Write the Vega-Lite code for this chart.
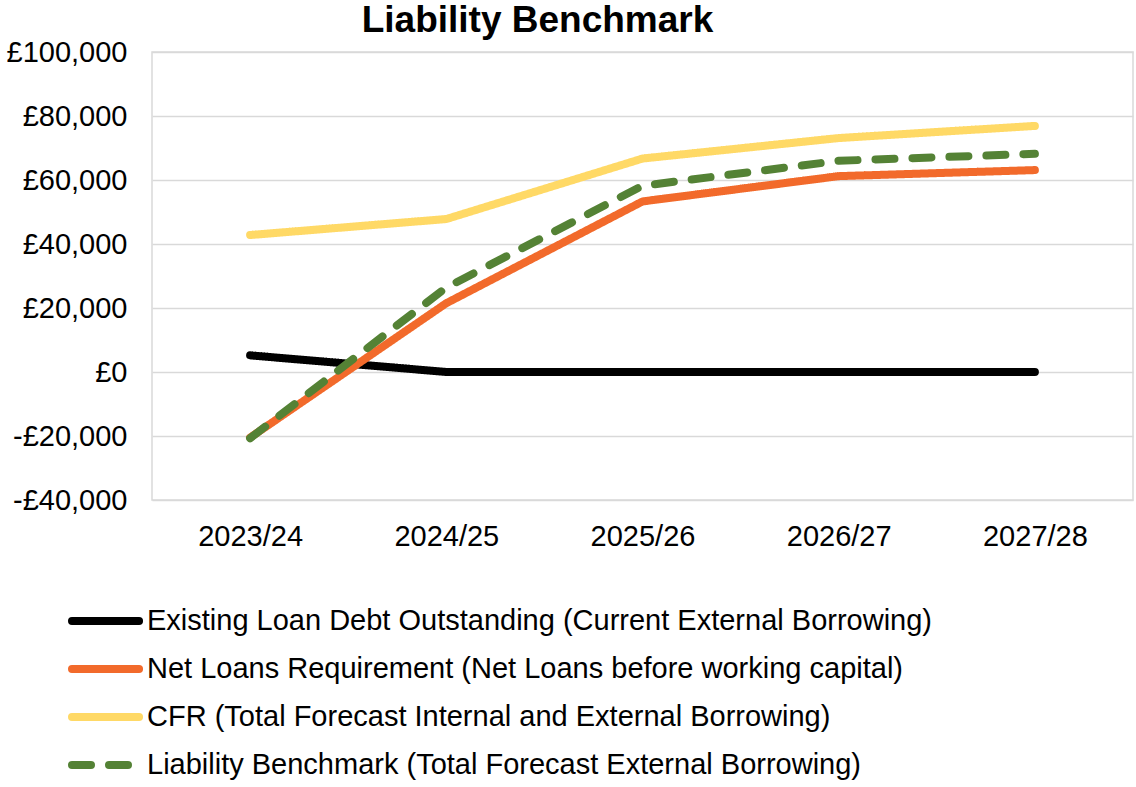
{
  "$schema": "https://vega.github.io/schema/vega-lite/v6.json",
  "autosize": {"type": "none"},
  "padding": {"left": 152, "top": 52, "right": 3, "bottom": 287},
  "width": 981,
  "height": 448,
  "title": {"text": "Liability Benchmark", "font": "Liberation Sans", "fontSize": 37, "fontWeight": "bold", "color": "#000000", "anchor": "middle", "dx": -105, "offset": -2},
  "config": {
    "font": "Liberation Sans",
    "view": {"stroke": "#d9d9d9", "strokeWidth": 1.5},
    "axis": {"labelFont": "Liberation Sans", "labelFontSize": 29, "labelColor": "#000000", "ticks": false, "title": null}
  },
  "data": {"values": [
    {"year": "2023/24", "series": "Existing Loan Debt Outstanding (Current External Borrowing)", "value": 5200},
    {"year": "2024/25", "series": "Existing Loan Debt Outstanding (Current External Borrowing)", "value": 0},
    {"year": "2025/26", "series": "Existing Loan Debt Outstanding (Current External Borrowing)", "value": 0},
    {"year": "2026/27", "series": "Existing Loan Debt Outstanding (Current External Borrowing)", "value": 0},
    {"year": "2027/28", "series": "Existing Loan Debt Outstanding (Current External Borrowing)", "value": 0},
    {"year": "2023/24", "series": "Net Loans Requirement (Net Loans before working capital)", "value": -20500},
    {"year": "2024/25", "series": "Net Loans Requirement (Net Loans before working capital)", "value": 21500},
    {"year": "2025/26", "series": "Net Loans Requirement (Net Loans before working capital)", "value": 53300},
    {"year": "2026/27", "series": "Net Loans Requirement (Net Loans before working capital)", "value": 61200},
    {"year": "2027/28", "series": "Net Loans Requirement (Net Loans before working capital)", "value": 63100},
    {"year": "2023/24", "series": "CFR (Total Forecast Internal and External Borrowing)", "value": 42800},
    {"year": "2024/25", "series": "CFR (Total Forecast Internal and External Borrowing)", "value": 47800},
    {"year": "2025/26", "series": "CFR (Total Forecast Internal and External Borrowing)", "value": 66700},
    {"year": "2026/27", "series": "CFR (Total Forecast Internal and External Borrowing)", "value": 73100},
    {"year": "2027/28", "series": "CFR (Total Forecast Internal and External Borrowing)", "value": 76900},
    {"year": "2023/24", "series": "Liability Benchmark (Total Forecast External Borrowing)", "value": -20700},
    {"year": "2024/25", "series": "Liability Benchmark (Total Forecast External Borrowing)", "value": 26400},
    {"year": "2025/26", "series": "Liability Benchmark (Total Forecast External Borrowing)", "value": 58200},
    {"year": "2026/27", "series": "Liability Benchmark (Total Forecast External Borrowing)", "value": 66000},
    {"year": "2027/28", "series": "Liability Benchmark (Total Forecast External Borrowing)", "value": 68200}
  ]},
  "mark": {"type": "line", "strokeWidth": 8, "strokeCap": "round", "strokeJoin": "round"},
  "encoding": {
    "x": {"field": "year", "type": "ordinal", "scale": {"padding": 0.5}, "axis": {"labelAngle": 0, "domain": false, "grid": false, "labelPadding": 22}},
    "y": {"field": "value", "type": "quantitative", "scale": {"domain": [-40000, 100000], "nice": false}, "axis": {"values": [-40000, -20000, 0, 20000, 40000, 60000, 80000, 100000], "gridColor": "#d9d9d9", "gridWidth": 1.5, "domain": false, "labelPadding": 25, "labelExpr": "datum.value < 0 ? '-£' + format(-datum.value, ',') : '£' + format(datum.value, ',')"}},
    "color": {"field": "series", "type": "nominal", "title": null,
      "scale": {"domain": ["Existing Loan Debt Outstanding (Current External Borrowing)", "Net Loans Requirement (Net Loans before working capital)", "CFR (Total Forecast Internal and External Borrowing)", "Liability Benchmark (Total Forecast External Borrowing)"],
        "range": ["#000000", "#F26A2B", "#FFD966", "#548235"]},
      "legend": {"orient": "none", "legendX": -84, "legendY": 550, "direction": "vertical", "symbolType": "M-1,0H3.47", "symbolSize": 900, "symbolStrokeWidth": 8, "labelFont": "Liberation Sans", "labelFontSize": 29, "labelColor": "#000000", "labelLimit": 1000, "rowPadding": 13, "labelOffset": 41,
        "encode": {"symbols": {"update": {"strokeCap": {"value": "round"}}}}}},
    "strokeDash": {"field": "series", "type": "nominal", "title": null,
      "scale": {"domain": ["Existing Loan Debt Outstanding (Current External Borrowing)", "Net Loans Requirement (Net Loans before working capital)", "CFR (Total Forecast Internal and External Borrowing)", "Liability Benchmark (Total Forecast External Borrowing)"],
        "range": [[1, 0], [1, 0], [1, 0], [19, 18]]}}
  }
}
